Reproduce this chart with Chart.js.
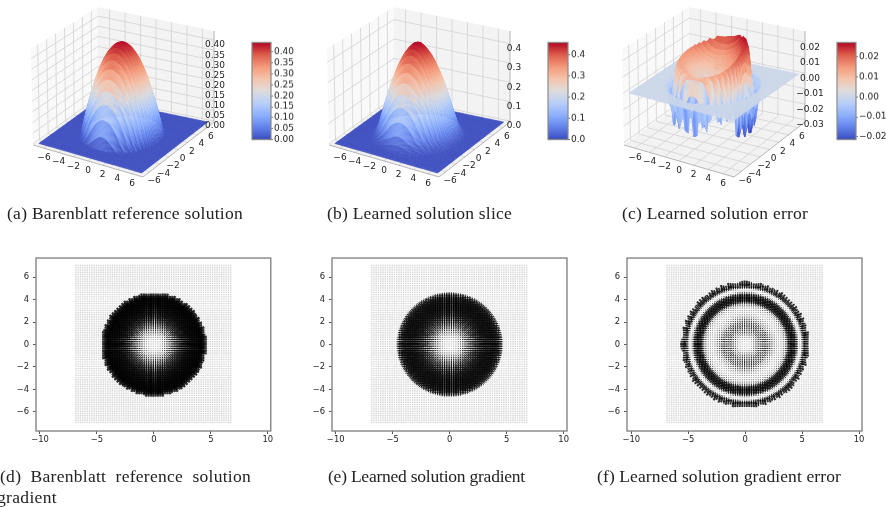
<!DOCTYPE html>
<html><head><meta charset="utf-8">
<script src="https://cdn.jsdelivr.net/npm/chart.js@4"></script>
<style>
html,body{margin:0;padding:0;background:#fff;width:886px;height:507px;overflow:hidden}
#stage{position:absolute;left:0;top:0;width:886px;height:507px;filter:blur(.6px);overflow:hidden}
canvas{position:absolute}
.cap{position:absolute;font-family:"Liberation Serif",serif;font-size:17.5px;color:#222;white-space:pre;line-height:20px}
</style></head><body><div id="stage"></div>
<script>
const captionTexts=["(a) Barenblatt reference solution","(b) Learned solution slice","(c) Learned solution error","(d)  Barenblatt  reference  solution","gradient","(e) Learned solution gradient","(f) Learned solution gradient error"];
const floorTicks=[-6,-4,-2,0,2,4,6];
const zTicksA=[0,.05,.1,.15,.2,.25,.3,.35,.4];
const zTicksB=[0,.1,.2,.3,.4];
const zTicksC=[-.03,-.02,-.01,0,.01,.02];
const barTicksA=[0,.05,.1,.15,.2,.25,.3,.35,.4];
const barTicksB=[0,.1,.2,.3,.4];
const barTicksC=[-.02,-.01,0,.01,.02];
const radiusA=[0,.5,1,1.5,2,2.5,3,3.5,4,4.5,4.75,7.5];
const heightA=[.44,.435,.42,.395,.36,.315,.26,.195,.12,.035,0,0];
const radiusB=[0,.5,1,1.5,2,2.5,3,3.5,4,4.5,5,5.4,7.5];
const heightB=[.46,.452,.43,.4,.36,.31,.255,.19,.115,.045,.01,0,0];
const radiusC=[0,1,2,3,3.4,3.8,4.1,4.35,4.5,4.8,5.1,5.35,7.5];
const heightC=[.011,.011,.013,.019,.023,.025,.02,.005,-.006,-.014,-.01,0,0];
const angleC=[.9,1.1,1.0,.8,.62,.55,.45,.6];
const spikesC=[.8,.5,.9,.6,.8,.5,.9,.6,1.5,.9,1.6,1,1.5,.8,1.6,1,1.4,.9,.5,1,.45,.9,.5,1.8,1.2,1.9,1.3,1.8,1.1,1.7,.9,.7,.9,.6,.8,.6,.9,.7,.9,.6,.8,.6,.9,.7,.8,.6,.9,.7,.8,.6,.9,.7,.8,.6];
const gradRadius=[0,.6,1,1.5,2,2.5,3,3.5,4,4.42,4.45,7.5];
const gradD=[0,.15,.6,1.15,1.8,2.4,2.8,3.1,3.3,3.4,0,0];
const gradRadiusE=[0,.6,1,1.5,2,2.5,3,3.5,4,4.4,4.7,7.5];
const gradE=[0,.15,.6,1.15,1.7,2.2,2.6,2.7,2.7,2.2,0,0];
const gradRadiusF=[0,.35,.7,1,1.5,2,2.5,2.9,3.3,3.7,4,4.25,4.5,4.8,4.95,5.2,5.45,5.5,7.5];
const gradF=[0,0,.35,.75,1.05,1,.45,.15,.3,1,2.7,2.7,1.2,0,.3,1.8,2.9,0,0];
const coolwarmStops=["#3b4cc0","#6282ea","#8db0fe","#b8cff8","#dddcdc","#f5c4ac","#f49a7b","#dc5d4a","#b40426"];

/* ---- layout constants ---- */
const stage=document.getElementById('stage');
function mkCanvas(l,t,w,h){const c=document.createElement('canvas');c.width=w;c.height=h;c.style.cssText=`left:${l}px;top:${t}px;width:${w}px;height:${h}px`;stage.appendChild(c);return c;}
const fmtMinus=(s)=>s.replace('-','\u2212');
function lookup(xs,ys,v){if(v<=xs[0])return ys[0];for(let i=1;i<xs.length;i++){if(v<=xs[i]){const t=(v-xs[i-1])/(xs[i]-xs[i-1]);return ys[i-1]+t*(ys[i]-ys[i-1]);}}return ys[ys.length-1];}
function coolwarm(t){t=Math.max(0,Math.min(1,t));const p=t*(coolwarmStops.length-1),i=Math.min(coolwarmStops.length-2,Math.floor(p)),f=p-i;
 const h=s=>[1,3,5].map(k=>parseInt(s.substr(k,2),16));const a=h(coolwarmStops[i]),b=h(coolwarmStops[i+1]);
 return `rgb(${a.map((v,k)=>Math.round(v+f*(b[k]-v))).join(',')})`;}

/* ---- 3D panels ---- */
function corners(dx){return {A:[33+dx,145],B:[143+dx,177],C:[214+dx,122],D:[98+dx,98],E:[31+dx,49],F:[143+dx,78],G:[214+dx,31],H:[98+dx,7]};}
const surfaceNx=120,surfaceNy=32;
function surfacePanel(o){
 const c=corners(o.dx),L=o.dx,cw=236,ch=200;
 const canvas=mkCanvas(L,0,cw,ch);
 const lim=7.5;
 const mix=(a,b,t)=>[a[0]+(b[0]-a[0])*t,a[1]+(b[1]-a[1])*t];
 const proj=(x,y,z)=>{const u=(x+lim)/(2*lim),v=(y+lim)/(2*lim),w=(z-o.zlim[0])/(o.zlim[1]-o.zlim[0]);
   const lo=mix(mix(c.A,c.B,u),mix(c.D,c.C,u),v),hi=mix(mix(c.E,c.F,u),mix(c.H,c.G,u),v);return mix(lo,hi,w);};
 const quads=[];
 for(let i=0;i<surfaceNx;i++)for(let j=0;j<surfaceNy;j++){
   const x0=-7+14*i/surfaceNx,x1=-7+14*(i+1)/surfaceNx,y0=-7+14*j/surfaceNy,y1=-7+14*(j+1)/surfaceNy;
   const zs=[o.fn(x0,y0),o.fn(x1,y0),o.fn(x1,y1),o.fn(x0,y1)];
   const zm=(zs[0]+zs[1]+zs[2]+zs[3])/4,xm=(x0+x1)/2,ym=(y0+y1)/2;
   const poly=[proj(x0,y0,zs[0]),proj(x1,y0,zs[1]),proj(x1,y1,zs[2]),proj(x0,y1,zs[3])];
   const ctr=proj(xm,ym,zm);
   const zn=(zm-o.zlim[0])/(o.zlim[1]-o.zlim[0]);
   quads.push({x:ctr[0]-L,y:ctr[1],poly,depth:.433*xm/7.5-.75*ym/7.5+.5*(2*zn-1)*.6,color:coolwarm((zm-o.bar[0])/(o.bar[1]-o.bar[0]))});
 }
 quads.sort((a,b)=>a.depth-b.depth);
 const plug={id:'surface3d',beforeDatasetsDraw(ch){
   const g=ch.ctx,sx=ch.scales.x,sy=ch.scales.y;
   const P=p=>[sx.getPixelForValue(p[0]-L),sy.getPixelForValue(p[1])];
   const poly=(pts,fill)=>{g.beginPath();pts.map(P).forEach((p,i)=>i?g.lineTo(p[0],p[1]):g.moveTo(p[0],p[1]));g.closePath();g.fillStyle=fill;g.fill();};
   const seg=(a,b,col,lw)=>{const p=P(a),q=P(b);g.beginPath();g.moveTo(p[0],p[1]);g.lineTo(q[0],q[1]);g.strokeStyle=col;g.lineWidth=lw;g.stroke();};
   g.save();
   poly([c.A,c.D,c.H,c.E],'#f9f9f9');poly([c.D,c.C,c.G,c.H],'#f3f3f3');poly([c.A,c.B,c.C,c.D],'#f2f2f2');
   const gc='#d2d2d2';
   floorTicks.forEach(t=>{
     seg(proj(t,-lim,o.zlim[0]),proj(t,lim,o.zlim[0]),gc,.8);
     seg(proj(-lim,t,o.zlim[0]),proj(lim,t,o.zlim[0]),gc,.8);
     seg(proj(t,lim,o.zlim[0]),proj(t,lim,o.zlim[1]),gc,.8);
     seg(proj(-lim,t,o.zlim[0]),proj(-lim,t,o.zlim[1]),gc,.8);
   });
   o.zTicks.forEach(t=>{
     seg(proj(-lim,-lim,t),proj(-lim,lim,t),gc,.8);
     seg(proj(-lim,lim,t),proj(lim,lim,t),gc,.8);
   });
   seg(c.A,c.B,'#999',.7);seg(c.B,c.C,'#999',.7);seg(c.C,c.G,'#999',.7);
   quads.forEach(q=>{
     g.beginPath();q.poly.map(P).forEach((p,i)=>i?g.lineTo(p[0],p[1]):g.moveTo(p[0],p[1]));g.closePath();
     g.fillStyle=q.color;g.strokeStyle=q.color;g.lineWidth=.35;g.fill();g.stroke();
   });
   g.fillStyle='#222';g.font='9px "DejaVu Sans"';g.textAlign='center';g.textBaseline='middle';
   const lab=(p,dx,dy,s)=>{const q=P(p);g.fillText(s,q[0]+dx,q[1]+dy);};
   floorTicks.forEach(t=>{
     lab(proj(t,-lim,o.zlim[0]),0,9.5,fmtMinus(String(t)));
     lab(proj(lim,t,o.zlim[0]),4,9,fmtMinus(String(t)));
   });
   o.zTicks.forEach(t=>lab(proj(lim,lim,t),o.zOff,5,fmtMinus(t.toFixed(o.digits))));
   g.restore();
 }};
 return new Chart(canvas,{type:'scatter',
   data:{datasets:[{data:quads.map(q=>({x:q.x,y:q.y})),pointRadius:0,showLine:false}]},
   options:{responsive:false,animation:false,events:[],layout:{padding:0},plugins:{legend:{display:false},tooltip:{enabled:false}},
     scales:{x:{type:'linear',display:false,min:0,max:cw},y:{type:'linear',display:false,min:0,max:ch,reverse:true}}},
   plugins:[plug]});
}
function spikeAt(x,y){const a=(Math.atan2(y,x)+Math.PI)/(2*Math.PI);return spikesC[Math.min(spikesC.length-1,Math.floor(a*spikesC.length))];}
function angAt(x,y){const a=(Math.atan2(y,x)+2*Math.PI)%(2*Math.PI)/(2*Math.PI)*angleC.length;const i=Math.floor(a)%angleC.length,f=a-Math.floor(a);return angleC[i]*(1-f)+angleC[(i+1)%angleC.length]*f;}
surfacePanel({dx:0,zlim:[-.005,.445],bar:[0,.444],zTicks:zTicksA,digits:2,zOff:1,fn:(x,y)=>lookup(radiusA,heightA,Math.hypot(x,y))});
surfacePanel({dx:295.5,zlim:[-.005,.465],bar:[0,.46],zTicks:zTicksB,digits:1,zOff:4,fn:(x,y)=>lookup(radiusB,heightB,Math.hypot(x,y))});
surfacePanel({dx:590.5,zlim:[-.0315,.0272],bar:[-.0214,.0272],zTicks:zTicksC,digits:2,zOff:5,fn:(x,y)=>{const r=Math.hypot(x,y),v=lookup(radiusC,heightC,r);return v>0?v*angAt(x,y):v*spikeAt(x,y);}});

/* ---- colour bars ---- */
function colorBar(l,w,lo,hi,ticks,dig){
 const top=42.3,bot=140,extra=34;
 const canvas=mkCanvas(l-2,top-6,2+w+extra,bot-top+12);
 new Chart(canvas,{type:'bar',
  data:{labels:['c'],datasets:[{data:[[lo,hi]],barPercentage:1,categoryPercentage:1,borderWidth:0,
    backgroundColor(ctx){const a=ctx.chart.chartArea;if(!a)return '#888';const g=ctx.chart.ctx.createLinearGradient(0,a.bottom,0,a.top);coolwarmStops.forEach((s,i)=>g.addColorStop(i/(coolwarmStops.length-1),s));return g;}}]},
  options:{responsive:false,animation:false,events:[],layout:{padding:{left:2,right:0,top:6,bottom:6}},
   plugins:{legend:{display:false},tooltip:{enabled:false}},
   scales:{x:{display:false},y:{position:'right',min:lo,max:hi,afterFit(s){s.width=extra;},afterBuildTicks(s){s.ticks=ticks.map(v=>({value:v}));},
     grid:{display:true,drawOnChartArea:false,drawTicks:true,tickLength:2,color:'#777'},border:{display:false},
     ticks:{autoSkip:false,padding:1,color:'#222',font:{family:'DejaVu Sans',size:9},callback:v=>fmtMinus(Number(v).toFixed(dig))}}}},
  plugins:[{id:'frame',afterDraw(c){const a=c.chartArea,g=c.ctx;g.save();g.strokeStyle='#8a8a8a';g.lineWidth=1.2;g.strokeRect(a.left,a.top,a.right-a.left,a.bottom-a.top);g.restore();}}]});
}
colorBar(252.3,19,0,.444,barTicksA,2);
colorBar(548.3,20,0,.46,barTicksB,1);
colorBar(837,19.3,-.0214,.0272,barTicksC,2);

/* ---- quiver panels ---- */
const quiverXTicks=[-10,-5,0,5,10],quiverYTicks=[-6,-4,-2,0,2,4,6];
const gridFromX=-6.85,gridFromY=-6.95,gridStep=.2,gridCountX=69,gridCountY=71;
function quiver(o){
 const scaleX=11.4,scaleY=11.47,T=254,B=431,cy=342.5;
 const pl=30,pr=6,pt=5,pb=24;
 const canvas=mkCanvas(o.L-pl,T-pt,o.R-o.L+pl+pr,B-T+pt+pb);
 const dots=[],arrows=[],rad=[],rot=[],bw=[];
 for(let i=0;i<gridCountX;i++)for(let j=0;j<gridCountY;j++){
   const x=gridFromX+i*gridStep,y=gridFromY+j*gridStep,r=Math.hypot(x,y),m=lookup(o.rr,o.mm,r);
   dots.push({x,y});
   if(m>.08){arrows.push({x,y});rad.push(m);rot.push(Math.atan2(-y,x)*180/Math.PI);bw.push(.55+.5*m);}
 }
 new Chart(canvas,{type:'scatter',
  data:{datasets:[
   {data:dots,pointStyle:'rect',pointRadius:1.0,pointBackgroundColor:'#d6d6d6',pointBorderWidth:0,order:2},
   {data:arrows,pointStyle:'line',pointRadius:rad,pointRotation:rot,pointBorderWidth:bw,pointBorderColor:'rgba(0,0,0,.82)',order:1}]},
  options:{responsive:false,animation:false,events:[],parsing:false,normalized:true,
   layout:{padding:{left:0,right:pr,top:pt,bottom:0}},plugins:{legend:{display:false},tooltip:{enabled:false}},
   scales:{
    x:{type:'linear',min:(o.L-o.x0)/scaleX,max:(o.R-o.x0)/scaleX,afterFit(s){s.height=pb;},afterBuildTicks(s){s.ticks=quiverXTicks.map(v=>({value:v}));},
      grid:{display:true,drawOnChartArea:false,tickLength:3,color:'#555'},border:{display:false},
      ticks:{autoSkip:false,maxRotation:0,padding:1,color:'#222',font:{family:'DejaVu Sans',size:8.4},callback:v=>fmtMinus(String(v))}},
    y:{type:'linear',min:(cy-B)/scaleY,max:(cy-T)/scaleY,afterFit(s){s.width=pl;},afterBuildTicks(s){s.ticks=quiverYTicks.map(v=>({value:v}));},
      grid:{display:true,drawOnChartArea:false,tickLength:3,color:'#555'},border:{display:false},
      ticks:{autoSkip:false,padding:4,color:'#222',font:{family:'DejaVu Sans',size:8.4},callback:v=>fmtMinus(String(v))}}}},
  plugins:[{id:'frame',afterDraw(c){const a=c.chartArea,g=c.ctx;g.save();g.strokeStyle='#858585';g.lineWidth=1.4;g.strokeRect(a.left,a.top,a.right-a.left,a.bottom-a.top);g.restore();}}]});
}
quiver({L:36,R:271,x0:154,rr:gradRadius,mm:gradD});
quiver({L:332,R:567,x0:449.7,rr:gradRadiusE,mm:gradE});
quiver({L:626.7,R:862,x0:745,rr:gradRadiusF,mm:gradF});

/* ---- captions ---- */
const capX=[7,327,622,0,-3,328,597],capY=[203,203,203,466,487,466,466],capW=[236,185,186,251,60,197,244];
const mc=document.createElement('canvas').getContext('2d');mc.font='17.5px "Liberation Serif"';
captionTexts.forEach((t,i)=>{const d=document.createElement('div');d.className='cap';d.textContent=t;
 d.style.left=capX[i]+'px';d.style.top=capY[i]+'px';
 d.style.letterSpacing=((capW[i]-mc.measureText(t).width)/t.length).toFixed(3)+'px';stage.appendChild(d);});
</script></body></html>
